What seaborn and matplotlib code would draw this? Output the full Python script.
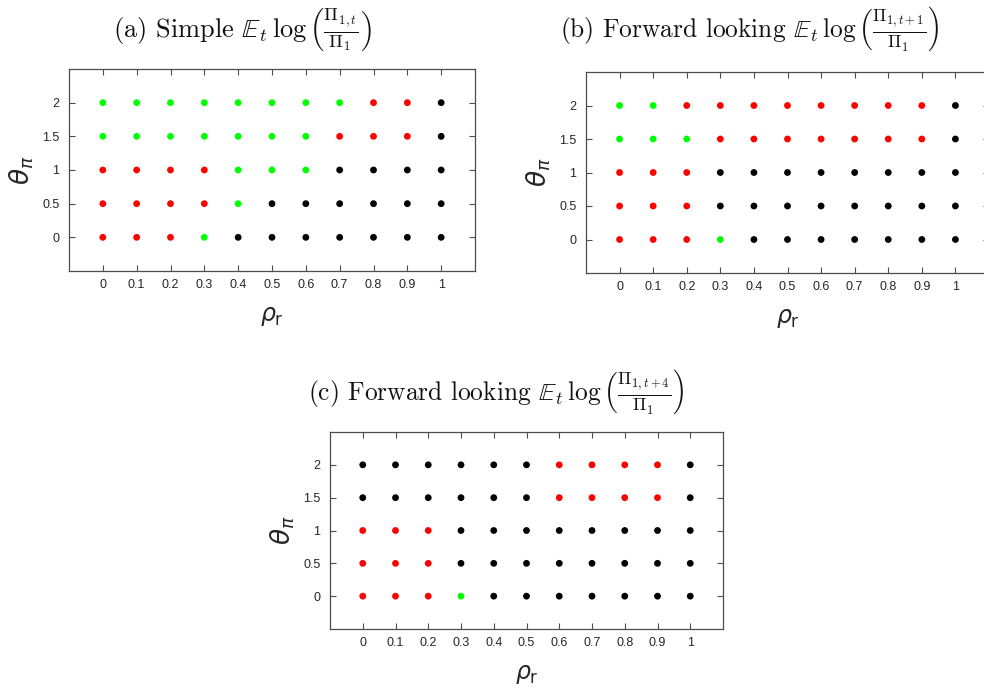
import matplotlib
matplotlib.use("Agg")
import matplotlib.pyplot as plt
import numpy as np
import pandas as pd
import seaborn as sns

# Grid of smoothing (rho_r) and inflation response (theta_pi) values
rho_values = [0, 0.1, 0.2, 0.3, 0.4, 0.5, 0.6, 0.7, 0.8, 0.9, 1]
theta_values = [2, 1.5, 1, 0.5, 0]
x_tick_labels = ["0", "0.1", "0.2", "0.3", "0.4", "0.5", "0.6", "0.7", "0.8", "0.9", "1"]
y_tick_labels = ["0", "0.5", "1", "1.5", "2"]

# Outcome class at each grid point, one row per theta (top row = theta 2)
simple_rows = [
    "G G G G G G G G R R K",
    "G G G G G G G R R R K",
    "R R R R G G G K K K K",
    "R R R R G K K K K K K",
    "R R R G K K K K K K K",
]
forward1_rows = [
    "G G R R R R R R R R K",
    "G G G R R R R R R R K",
    "R R R K K K K K K K K",
    "R R R K K K K K K K K",
    "R R R G K K K K K K K",
]
forward4_rows = [
    "K K K K K K R R R R K",
    "K K K K K K R R R R K",
    "R R R K K K K K K K K",
    "R R R K K K K K K K K",
    "R R R G K K K K K K K",
]

titles = [
    r"(a) Simple $\mathbb{E}_t\,\log\left(\frac{\Pi_{1,t}}{\Pi_1}\right)$",
    r"(b) Forward looking $\mathbb{E}_t\,\log\left(\frac{\Pi_{1,t+1}}{\Pi_1}\right)$",
    r"(c) Forward looking $\mathbb{E}_t\,\log\left(\frac{\Pi_{1,t+4}}{\Pi_1}\right)$",
]

palette = {"G": "#00ff00", "R": "#ff0000", "K": "#000000"}


def grid_frame(rows):
    recs = []
    for theta, row in zip(theta_values, rows):
        for rho, code in zip(rho_values, row.split()):
            recs.append({"rho": rho, "theta": theta, "outcome": code})
    return pd.DataFrame(recs)


sns.set_theme(style="white")
plt.rcParams["font.family"] = ["Liberation Sans", "DejaVu Sans"]
plt.rcParams["mathtext.fontset"] = "cm"

W, H = 984, 694
fig = plt.figure(figsize=(W / 100, H / 100), dpi=100)
fig.patch.set_facecolor("white")


def px_axes(left, top, right, bottom):
    return fig.add_axes([left / W, 1 - bottom / H, (right - left) / W, (bottom - top) / H])


panels = [
    (simple_rows, (69, 69, 475, 271), (242, 29), 19),
    (forward1_rows, (586, 72, 989, 273), (750, 29), 18.3),
    (forward4_rows, (330, 432, 723, 629), (496, 391), 18.3),
]

spine_col = "#4d4d4d"
text_col = "#262626"

for (rows, box, tpos, tsize), title in zip(panels, titles):
    ax = px_axes(*box)
    df = grid_frame(rows)
    sns.scatterplot(data=df, x="rho", y="theta", hue="outcome", palette=palette,
                    s=24, edgecolor="none", linewidth=0, legend=False, ax=ax)
    ax.set_xlim(-0.1, 1.1)
    ax.set_ylim(-0.5, 2.5)
    ax.set_xticks(rho_values)
    ax.set_xticklabels(x_tick_labels)
    ax.set_yticks([0, 0.5, 1, 1.5, 2])
    ax.set_yticklabels(y_tick_labels)
    ax.tick_params(axis="both", which="major", direction="in", length=4, width=0.8,
                   colors=spine_col, labelcolor=text_col, labelsize=9,
                   bottom=True, left=True, top=True, right=True)
    ax.tick_params(axis="x", pad=6)
    ax.tick_params(axis="y", pad=7)
    for sp in ax.spines.values():
        sp.set_visible(True)
        sp.set_color(spine_col)
        sp.set_linewidth(0.9)
    ax.set_xlabel(r"$\rho_\mathsf{r}$", fontsize=17, color=text_col,
                  math_fontfamily="dejavusans", labelpad=10)
    ax.set_ylabel(r"$\theta_\pi$", fontsize=19, color=text_col,
                  math_fontfamily="dejavusans", labelpad=4)
    ax.set_facecolor("white")
    fig.text(tpos[0] / W, 1 - tpos[1] / H, title, ha="center", va="center",
             fontsize=tsize, family="cmr10", color="#111111")

fig.savefig("out.png", dpi=100, facecolor="white")
